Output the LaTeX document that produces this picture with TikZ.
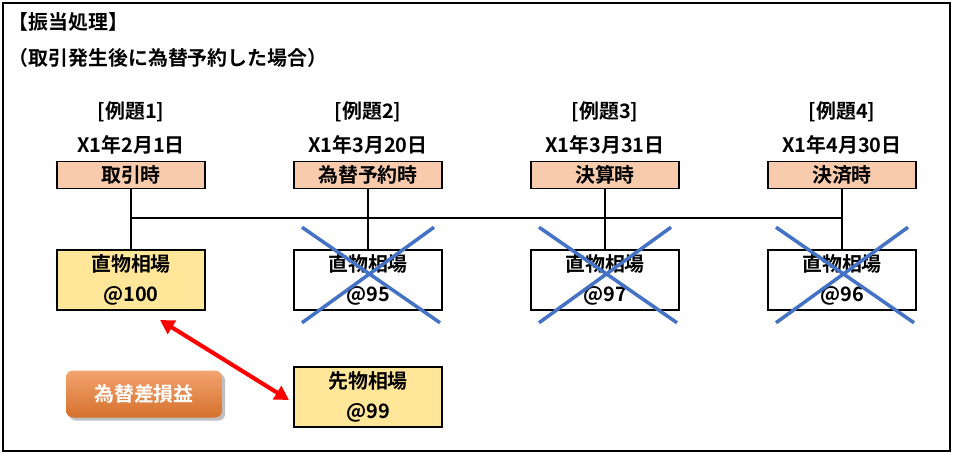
\documentclass[tikz,border=0pt]{standalone}
\usepackage{fontspec}
\setmainfont{Noto Sans CJK JP}[BoldFont={Noto Sans CJK JP Bold}]
\usetikzlibrary{arrows.meta,shadows}
\definecolor{hdrfill}{RGB}{248,203,173}
\definecolor{ratefill}{RGB}{255,230,153}
\definecolor{crossblue}{RGB}{68,114,196}
\definecolor{lossorange}{RGB}{237,125,49}
\newcommand\bigtxt{\fontsize{17}{25}\selectfont\bfseries}
\newlength\unitpx
\setlength\unitpx{0.03cm}
\tikzset{
  hdrbox/.style={draw,line width=1.3pt,fill=hdrfill,minimum width=148\unitpx,minimum height=27\unitpx,inner sep=0pt,font=\bigtxt},
  ratebox/.style={draw,line width=1.3pt,fill=ratefill,minimum width=148\unitpx,minimum height=60\unitpx,inner sep=0pt,align=center,font=\bigtxt},
  oldbox/.style={ratebox,fill=white},
  labeltxt/.style={font=\bigtxt,align=center},
  crossline/.style={crossblue,line width=3pt}
}
\begin{document}
\begin{tikzpicture}[x=0.03cm,y=-0.03cm,line width=1.3pt]
  \useasboundingbox (0,0) rectangle (955,454);
  \draw[line width=1pt] (3,3) rectangle (950,451);
  \node[anchor=west,font=\bigtxt] (title) at (4,22) {【振当処理】};
  \node[anchor=west,font=\bigtxt] (sub) at (4,58) {（取引発生後に為替予約した場合）};

  % columns
  \foreach \i/\x/\d/\h in {1/131/X1年2月1日/取引時,2/368/X1年3月20日/為替予約時,
                           3/605/X1年3月31日/決算時,4/842/X1年4月30日/決済時}{
    \node[labeltxt] (ex\i) at (\x,112) {[例題\i]};
    \node[labeltxt] (dt\i) at (\x,145) {\d};
    \node[hdrbox] (h\i) at (\x,175) {\h};
    \coordinate (j\i) at (\x,218);
  }
  \node[ratebox] (r1) at (131,280) {直物相場\\@100};
  \node[oldbox]  (r2) at (368,280) {直物相場\\@95};
  \node[oldbox]  (r3) at (605,280) {直物相場\\@97};
  \node[oldbox]  (r4) at (842,280) {直物相場\\@96};
  \node[ratebox] (fw) at (368,397) {先物相場\\@99};

  \draw (j1) -- (j4);
  \foreach \i in {1,...,4}
    \draw (h\i) -- (j\i) -- (r\i);

  % crossed out rates
  \foreach \i in {2,3,4}{
    \draw[crossline] ([shift={(-66\unitpx,22\unitpx)}]r\i.north) -- ([shift={(72\unitpx,-12\unitpx)}]r\i.south);
    \draw[crossline] ([shift={(66\unitpx,22\unitpx)}]r\i.north) -- ([shift={(-66\unitpx,-12\unitpx)}]r\i.south);
  }

  \node[rounded corners=6pt,top color=lossorange!70!white,bottom color=lossorange!90!black,text=white,font=\bigtxt,
        minimum width=156\unitpx,minimum height=47\unitpx,drop shadow] (loss) at (144,394) {為替差損益};

  \coordinate (a1) at (160,320);
  \coordinate (a2) at (289,400);
  \draw[red,line width=3.5pt,{Triangle[length=12pt,width=13pt]}-{Triangle[length=12pt,width=13pt]}] (a1) -- (a2);
\end{tikzpicture}
\end{document}
